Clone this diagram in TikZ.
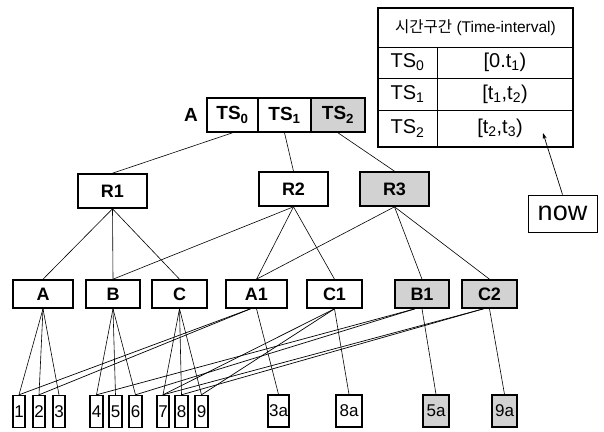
\documentclass[tikz,border=0pt]{standalone}
\usepackage{fontspec}
\setmainfont{Liberation Sans}
\newfontfamily\krfont{Noto Sans CJK KR}
\usetikzlibrary{arrows.meta}
\tikzset{
  fsz/.style={font=\fontsize{#1}{#1}\selectfont},
  tsbox/.style={draw, line width=1.6pt, minimum height=34pt, inner sep=0pt, font=\bfseries\fontsize{19}{19}\selectfont},
  rbox/.style={draw, line width=1.6pt, minimum width=69pt, minimum height=34pt, inner sep=0pt, font=\bfseries\fontsize{18}{18}\selectfont},
  mbox/.style={draw, line width=1.6pt, minimum height=28pt, inner sep=0pt, font=\bfseries\fontsize{18}{18}\selectfont},
  leaf/.style={draw, line width=1.4pt, minimum height=32pt, inner sep=0pt, font=\fontsize{17}{17}\selectfont},
  shaded/.style={fill=gray!35},
  link/.style={line width=0.6pt},
  cross/.style={line width=0.7pt},
}
\begin{document}
\begin{tikzpicture}[x=1pt,y=-1pt]
\useasboundingbox (0,0) rectangle (604,431);
% table
\draw[line width=1.8pt] (378,8) rectangle (573,147);
\draw[line width=1pt] (378,47) -- (573,47) (378,78) -- (573,78) (378,110) -- (573,110) (437,47) -- (437,147);
\node[fsz=15.5] (hdr) at (475.5,27.5) {{\krfont 시간구간} (Time-interval)};
\node[fsz=20] (r0a) at (407.5,62.5) {TS\textsubscript{0}};
\node[fsz=20] (r1a) at (407.5,94) {TS\textsubscript{1}};
\node[fsz=20] (r2a) at (407.5,128.5) {TS\textsubscript{2}};
\node[fsz=20] (r0b) at (505,62.5) {[0.t\textsubscript{1})};
\node[fsz=20] (r1b) at (505,94) {[t\textsubscript{1},t\textsubscript{2})};
\node[fsz=20] (r2b) at (500,128.5) {[t\textsubscript{2},t\textsubscript{3})};
\coordinate (arrtip) at (543,133);
% now
\node[draw, line width=1pt, minimum width=69pt, minimum height=37pt, inner sep=0pt, fsz=27] (now) at (562.5,213.5) {now};
\draw[line width=0.7pt, -{Stealth[length=6pt,width=4pt]}] (now.north) -- (arrtip);
% top row
\node[font=\bfseries\fontsize{19}{19}\selectfont] (Alab) at (191,115) {A};
\node[tsbox, minimum width=51pt] (TS0) at (232.5,115) {TS\textsubscript{0}};
\node[tsbox, minimum width=52pt] (TS1) at (284.5,115) {TS\textsubscript{1}};
\node[tsbox, shaded, minimum width=54pt] (TS2) at (338,115) {TS\textsubscript{2}};
% R level
\node[rbox] (R1) at (112.5,191) {R1};
\node[rbox] (R2) at (293.5,189) {R2};
\node[rbox, shaded] (R3) at (394.5,189) {R3};
% middle level
\node[mbox, minimum width=60pt] (A) at (43,294) {A};
\node[mbox, minimum width=54pt] (B) at (113,294) {B};
\node[mbox, minimum width=55pt] (C) at (179.5,294) {C};
\node[mbox, minimum width=61pt] (A1) at (256.5,294) {A1};
\node[mbox, minimum width=55pt] (C1) at (334.5,294) {C1};
\node[mbox, shaded, minimum width=54pt] (B1) at (422,294) {B1};
\node[mbox, shaded, minimum width=55pt] (C2) at (489.5,294) {C2};
% leaves
\node[leaf, minimum width=12pt] (l1) at (19,411.5) {1};
\node[leaf, minimum width=12pt] (l2) at (39,411.5) {2};
\node[leaf, minimum width=12pt] (l3) at (59,411.5) {3};
\node[leaf, minimum width=13pt] (l4) at (96.5,411.5) {4};
\node[leaf, minimum width=13pt] (l5) at (115.5,411.5) {5};
\node[leaf, minimum width=13pt] (l6) at (135.5,411.5) {6};
\node[leaf, minimum width=12pt] (l7) at (163,411.5) {7};
\node[leaf, minimum width=13pt] (l8) at (181.5,411.5) {8};
\node[leaf, minimum width=13pt] (l9) at (201.5,411.5) {9};
\node[leaf, minimum width=21pt] (l3a) at (278.5,411) {3a};
\node[leaf, minimum width=26pt] (l8a) at (349,411) {8a};
\node[leaf, shaded, minimum width=26pt] (l5a) at (436,411) {5a};
\node[leaf, shaded, minimum width=25pt] (l9a) at (504.5,411) {9a};
% top links
\draw[link] (TS0.south) -- (R1.north);
\draw[link] (TS1.south) -- (R2.north);
\draw[link] (TS2.south) -- (R3.north);
% R links
\draw[link] (R1.south) -- (A.north);
\draw[link] (R1.south) -- (B.north);
\draw[link] (R1.south) -- (C.north);
\draw[link] (R2.south) -- (B.north);
\draw[link] (R2.south) -- (A1.north);
\draw[link] (R2.south) -- (C1.north);
\draw[link] (R3.south) -- (A1.north);
\draw[link] (R3.south) -- (B1.north);
\draw[link] (R3.south) -- (C2.north);
% leaf links
\draw[link] (A.south) -- (l1.north);
\draw[link] (A.south) -- (l2.north);
\draw[link] (A.south) -- (l3.north);
\draw[link] (B.south) -- (l4.north);
\draw[link] (B.south) -- (l5.north);
\draw[link] (B.south) -- (l6.north);
\draw[link] (C.south) -- (l7.north);
\draw[link] (C.south) -- (l8.north);
\draw[link] (C.south) -- (l9.north);
\draw[link] (A1.south) -- (l3a.north);
\draw[link] (C1.south) -- (l8a.north);
\draw[link] (B1.south) -- (l5a.north);
\draw[link] (C2.south) -- (l9a.north);
% cross links
\draw[cross] ([xshift=-6pt]A1.south) -- (l1.north);
\draw[cross] ([xshift=-6pt]A1.south) -- (l2.north);
\draw[cross] (C1.south) -- (l7.north);
\draw[cross] (C1.south) -- (l9.north);
\draw[cross] ([xshift=-7pt]B1.south) -- (l4.north);
\draw[cross] ([xshift=-7pt]B1.south) -- (l6.north);
\draw[cross] ([xshift=-6pt]C2.south) -- (l7.north);
\draw[cross] ([xshift=-6pt]C2.south) -- (l8.north);
\end{tikzpicture}
\end{document}
